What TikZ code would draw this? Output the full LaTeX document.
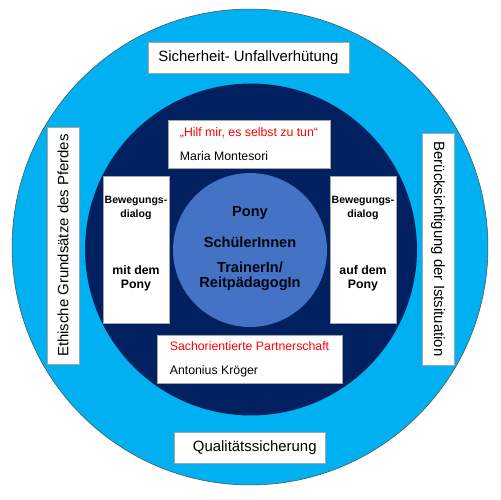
\documentclass[tikz,border=0pt]{standalone}
\usepackage{fontspec}
\setmainfont{Liberation Sans}
\usetikzlibrary{positioning}
\definecolor{skyring}{HTML}{00B0F0}
\definecolor{navyring}{HTML}{002060}
\definecolor{corefill}{HTML}{4472C4}
\definecolor{quotered}{HTML}{FF0000}

\begin{document}
\begin{tikzpicture}[x=0.02cm, y=-0.02cm,
  ring/.style={circle, inner sep=0pt, draw=black!70, line width=0.3pt},
  box/.style={rectangle, draw=gray!70, fill=white, line width=0.4pt, inner sep=0pt},
  big/.style={font=\fontsize{8.5}{10}\selectfont},
  small/.style={font=\fontsize{7}{13.8}\selectfont, align=left, inner xsep=0.2cm},
  core/.style={font=\bfseries\fontsize{8.3}{8.5}\selectfont, align=center, text=black!85!navyring},
  side/.style={font=\bfseries\fontsize{6}{7.9}\selectfont, align=center},
  sidelo/.style={font=\bfseries\fontsize{7}{7.9}\selectfont, align=center}
]
\useasboundingbox (0,0) rectangle (500,500);
% rings
\node[ring, fill=skyring, minimum size=9.52cm] (outer) at (250,247) {};
\node[ring, fill=navyring, draw=none, minimum size=6.64cm] (inner) at (251,249.5) {};
\node[circle, fill=corefill, inner sep=0pt, minimum size=3.08cm] (core) at (250,250) {};
% outer ring boxes
\node[box, big, minimum width=4.02cm, minimum height=0.62cm] (safety) at (248.5,57.5) {Sicherheit- Unfallverhütung};
\node[box, big, minimum width=3.02cm, minimum height=0.62cm] (quality) at (249.5,447.5) {\hspace{6pt}Qualitätssicherung};
\node[box, big, rotate=90, minimum width=4.74cm, minimum height=0.64cm] (ethics) at (63,245.5) {Ethische Grundsätze des Pferdes};
\node[box, big, rotate=-90, minimum width=4.64cm, minimum height=0.64cm] (actual) at (438,249) {Berücksichtigung der Istsituation};
% inner ring boxes
\node[box, small, minimum width=3.24cm, minimum height=0.96cm] (montessori) at (249,144)
  {\textcolor{quotered}{„Hilf mir, es selbst zu tun“}\\Maria Montesori};
\node[box, small, minimum width=3.70cm, minimum height=0.96cm] (partner) at (249.5,359)
  {\textcolor{quotered}{Sachorientierte Partnerschaft}\\Antonius Kröger};
\node[box, minimum width=1.32cm, minimum height=2.94cm] (lbox) at (136,249.5) {};
\node[box, minimum width=1.32cm, minimum height=2.94cm] (rbox) at (363,249.5) {};
\node[side] (ltop) at (136,208) {Bewegungs-\\dialog};
\node[sidelo] (lbot) at (136,278) {mit dem\\Pony};
\node[side] (rtop) at (363,208) {Bewegungs-\\dialog};
\node[sidelo] (rbot) at (363,278) {auf dem\\Pony};
% core text
\node[core] (pony) at (250,213) {Pony};
\node[core] (pupils) at (250,242) {SchülerInnen};
\node[core] (trainer) at (250,276) {TrainerIn/\\ReitpädagogIn};
\end{tikzpicture}
\end{document}
